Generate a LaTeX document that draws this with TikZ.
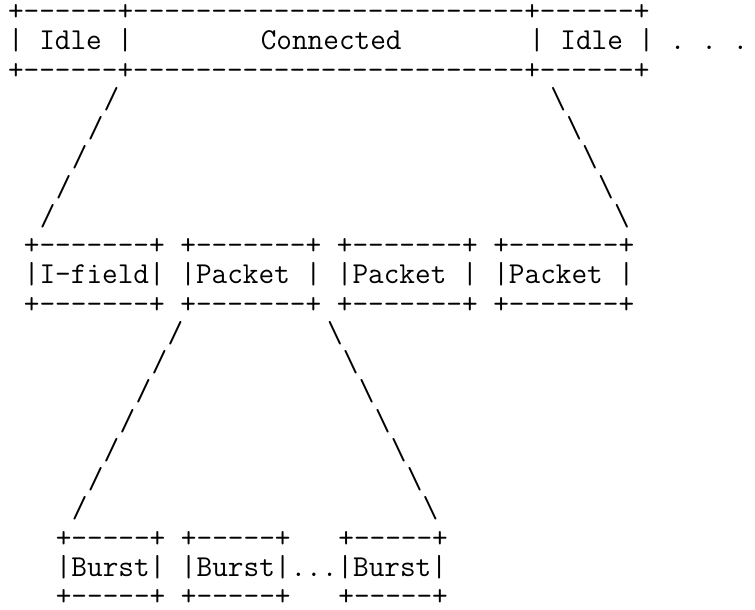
\documentclass[tikz,border=0pt]{standalone}
\usepackage{tikz}

% helpers for the typewriter drawing
\newcommand{\bsl}{\textbackslash}
\newcommand{\gap}[1]{\hspace*{#1\dimexpr0.525em\relax}}
\newcommand{\dashes}[1]{\foreach \k in {1,...,#1}{-}}

\tikzset{
  ascii/.style={anchor=base west, inner sep=0pt, outer sep=0pt,
    font=\ttfamily\fontsize{22.786pt}{26pt}\selectfont}
}

\begin{document}
\begin{tikzpicture}[x=11.9625pt, y=-21.9375pt]
    % one unit = one character column / one text line
    \useasboundingbox (-0.5016,-0.7043) rectangle (46.834,20.15);

    % top frame: Idle | Connected | Idle
    \node[ascii] (topA) at (0,0) {+\dashes{6}+\dashes{25}+\dashes{6}+};
    \node[ascii] (topB) at (0,1) {|~Idle~|\gap{8}Connected\gap{8}|~Idle~|~.~.~.};
    \node[ascii] (topC) at (0,2) {+\dashes{6}+\dashes{25}+\dashes{6}+};

    % Connected opens up into the packet row
    \foreach \i in {0,...,4} {
        \node[ascii] (upL\i) at (6-\i,3+\i) {/};
        \node[ascii] (upR\i) at (34+\i,3+\i) {\bsl};
    }

    % packet row
    \node[ascii] (pktA) at (1,8) {+\dashes{7}+~+\dashes{7}+~+\dashes{7}+~+\dashes{7}+};
    \node[ascii] (pktB) at (1,9) {|I-field|~|Packet~|~|Packet~|~|Packet~|};
    \node[ascii] (pktC) at (1,10) {+\dashes{7}+~+\dashes{7}+~+\dashes{7}+~+\dashes{7}+};

    % first packet opens up into bursts
    \foreach \i in {0,...,6} {
        \node[ascii] (loL\i) at (10-\i,11+\i) {/};
        \node[ascii] (loR\i) at (20+\i,11+\i) {\bsl};
    }

    % burst row
    \node[ascii] (bstA) at (3,18) {+\dashes{5}+~+\dashes{5}+\gap{3}+\dashes{5}+};
    \node[ascii] (bstB) at (3,19) {|Burst|~|Burst|...|Burst|};
    \node[ascii] (bstC) at (3,20) {+\dashes{5}+~+\dashes{5}+\gap{3}+\dashes{5}+};
\end{tikzpicture}
\end{document}
